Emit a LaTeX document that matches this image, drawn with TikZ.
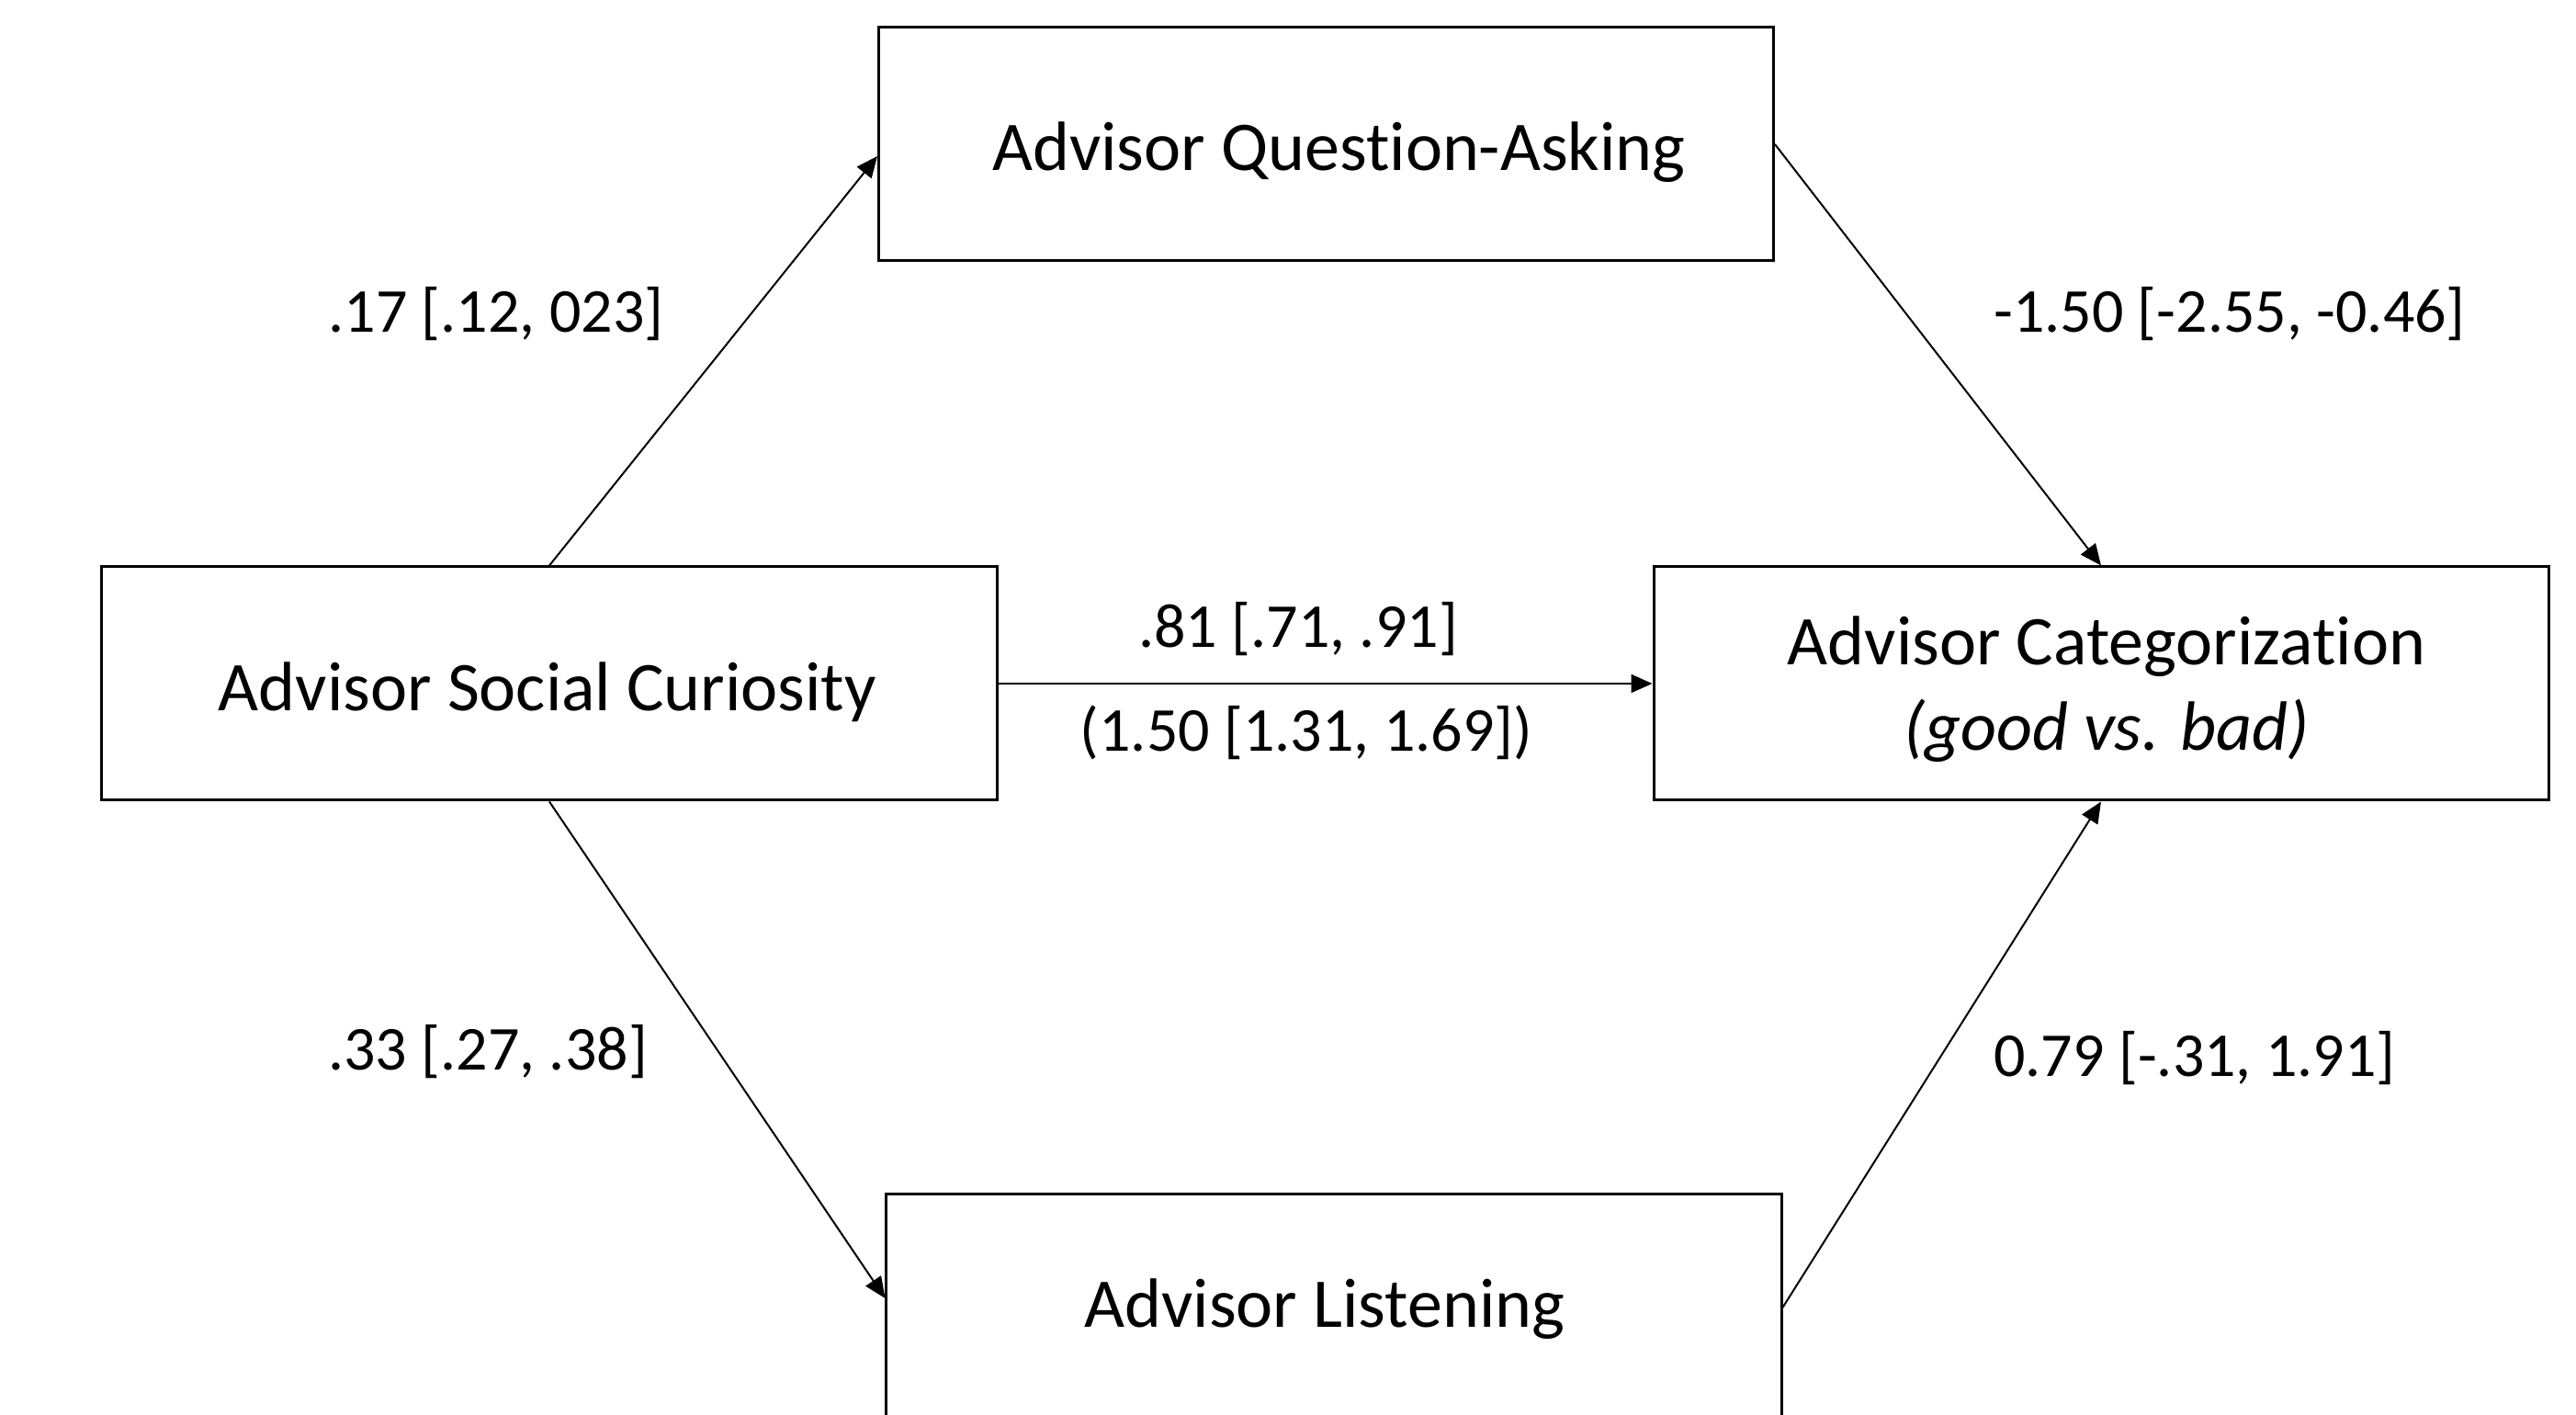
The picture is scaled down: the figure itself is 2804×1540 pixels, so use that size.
\documentclass[tikz,border=0pt]{standalone}
\usepackage{fontspec}
\setmainfont{Carlito}[Ligatures=NoCommon]
\usetikzlibrary{arrows.meta,calc}
\begin{document}
\begin{tikzpicture}[x=0.2pt,y=-0.2pt,
  box/.style={draw,line width=0.6pt,minimum width=194.8pt,minimum height=50.8pt,inner sep=0pt},
  boxtext/.style={inner sep=0pt,font=\fontsize{15.2}{18.6}\selectfont,align=center},
  lab/.style={inner sep=0pt,font=\fontsize{13.6}{16}\selectfont},
  conn/.style={line width=0.4pt,-{Triangle[length=4.6pt,width=4pt]}}]
\useasboundingbox (0,0) rectangle (2804,1540);
\clip (0,0) rectangle (2804,1540);
\fill[white] (0,0) rectangle (2804,1540);
% boxes
\node[box] (Q) at (1443.5,157) {};
\node[box] (L) at (598,744) {};
\node[box] (R) at (2287,744) {};
\node[box] (B) at (1452,1427) {};
\node[boxtext] (Qt) at ([xshift=2.8pt,yshift=-1.8pt]Q.center) {Advisor Question-Asking};
\node[boxtext] (Lt) at ([xshift=-0.4pt,yshift=-1.8pt]L.center) {Advisor Social Curiosity};
\node[boxtext] (Rt) at ([xshift=1.2pt,yshift=-1.2pt]R.center) {Advisor Categorization\\\itshape (good vs. bad)};
\node[boxtext] (Bt) at ([xshift=-2pt,yshift=0.4pt]B.center) {Advisor Listening};
% connectors
\draw[conn] (L.north) -- ([yshift=-2.6pt]Q.west);
\draw[conn] (Q.east) -- (R.north);
\draw[conn] (L.east) -- (R.west);
\draw[conn] (L.south) -- ([yshift=2.8pt]B.west);
\draw[conn] ([yshift=0.8pt]B.east) -- (R.south);
% labels
\node[lab] (l1) at (540,342) {.17 [.12, 023]};
\node[lab] (l2) at (2427,342) {-1.50 [-2.55, -0.46]};
\node[lab] (l3) at (1413,685) {.81 [.71, .91]};
\node[lab] (l4) at (1422,797) {(1.50 [1.31, 1.69])};
\node[lab] (l5) at (531,1145) {.33 [.27, .38]};
\node[lab] (l6) at (2389,1152) {0.79 [-.31, 1.91]};
\end{tikzpicture}
\end{document}
